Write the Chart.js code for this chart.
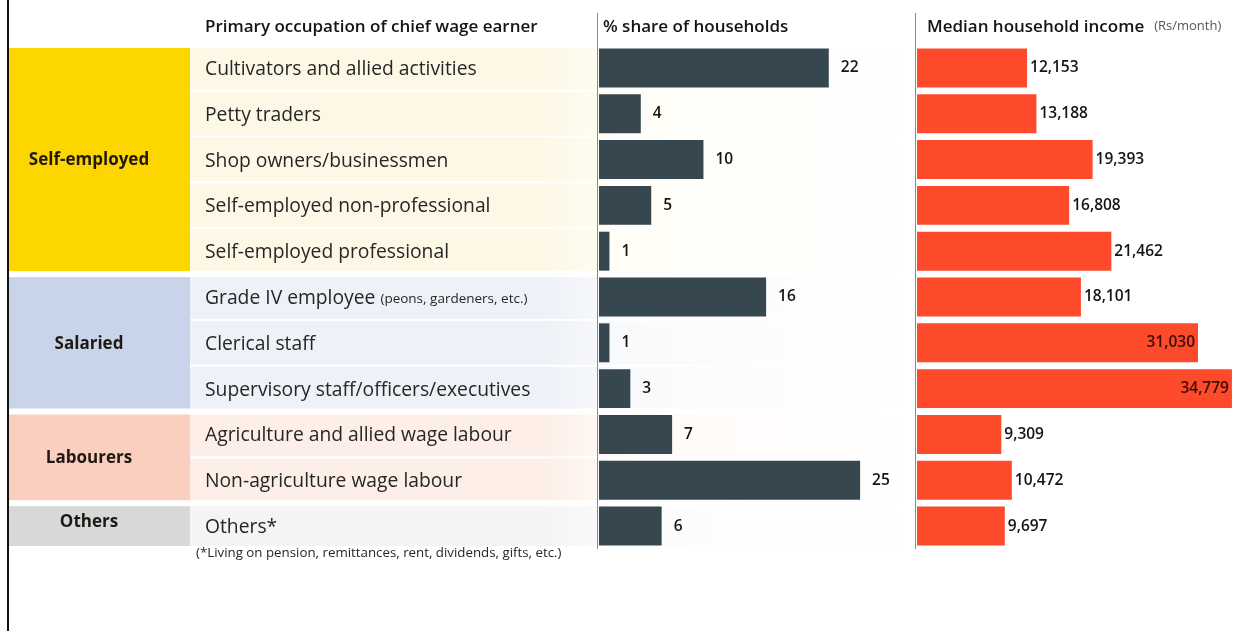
<!DOCTYPE html>
<html>
<head>
<meta charset="utf-8">
<script src="https://cdn.jsdelivr.net/npm/chart.js@4"></script>
<style>
    html, body { margin: 0; padding: 0; background: #fff; }
    #wrap { position: relative; width: 1244px; height: 631px; overflow: hidden; }
    canvas { position: absolute; top: 0; }
    #shareChart { left: 0; }
    #incomeChart { left: 900px; }
</style>
</head>
<body>
<div id="wrap">
    <canvas id="shareChart" width="900" height="631"></canvas>
    <canvas id="incomeChart" width="344" height="631"></canvas>
</div>
<script>
/* ============================================================
   DATA
============================================================ */
const occupations = [
    "Cultivators and allied activities",
    "Petty traders",
    "Shop owners/businessmen",
    "Self-employed non-professional",
    "Self-employed professional",
    "Grade IV employee",
    "Clerical staff",
    "Supervisory staff/officers/executives",
    "Agriculture and allied wage labour",
    "Non-agriculture wage labour",
    "Others*"
];
const occupationNotes = ["", "", "", "", "", "(peons, gardeners, etc.)", "", "", "", "", ""];
const shareOfHouseholds = [22, 4, 10, 5, 1, 16, 1, 3, 7, 25, 6];
const medianIncome = [12153, 13188, 19393, 16808, 21462, 18101, 31030, 34779, 9309, 10472, 9697];

const groupNames = ["Self-employed", "Salaried", "Labourers", "Others"];
const groupSizes = [5, 3, 2, 1];

const FOOTNOTE = "(*Living on pension, remittances, rent, dividends, gifts, etc.)";

/* ============================================================
   STYLE
============================================================ */
const FONT = '"Open Sans", "DejaVu Sans", sans-serif';
const GROUP_BLOCK = ["#fdd600", "#c8d4e9", "#fbcfbf", "#d6d8da"];
const GROUP_ROW = ["#fdf8e6", "#eef1f7", "#fdeee8", "#f4f4f5"];
const GROUP_ROW_END = ["#fffdf5", "#f9fafc", "#fffaf8", "#fcfcfc"];
const SHARE_COLOR = "#36474f";
const INCOME_COLOR = "#fd4a2b";

function rowBounds(yScale, i) {
    const step = yScale.getPixelForValue(1) - yScale.getPixelForValue(0);
    const c = yScale.getPixelForValue(i);
    return { top: c - step / 2, bottom: c + step / 2 };
}

// which group each row belongs to, and whether it starts/ends that group
function rowGroups() {
    const out = [];
    groupSizes.forEach((n, g) => {
        for (let k = 0; k < n; k++) out.push({ g, first: k === 0, last: k === n - 1 });
    });
    return out;
}

function drawValueLabels(chart, fmt, gap, insideColor) {
    const ctx = chart.ctx;
    const meta = chart.getDatasetMeta(0);
    const values = chart.data.datasets[0].data;
    ctx.save();
    ctx.font = "600 15.5px " + FONT;
    ctx.textBaseline = "middle";
    meta.data.forEach((bar, i) => {
        const txt = fmt(values[i]);
        const w = ctx.measureText(txt).width;
        // labels that would run off the canvas go inside the bar
        if (bar.x + gap + w > chart.width - 2) {
            ctx.fillStyle = insideColor;
            ctx.textAlign = "right";
            ctx.fillText(txt, bar.x - 3, bar.y);
        } else {
            ctx.fillStyle = "#141414";
            ctx.textAlign = "left";
            ctx.fillText(txt, bar.x + gap, bar.y);
        }
    });
    ctx.restore();
}

function drawAxisLine(chart) {
    const ctx = chart.ctx;
    const area = chart.chartArea;
    ctx.save();
    ctx.strokeStyle = "#8a8a8a";
    ctx.lineWidth = 1;
    ctx.beginPath();
    ctx.moveTo(area.left - 1.5, 13);
    ctx.lineTo(area.left - 1.5, area.bottom);
    ctx.stroke();
    ctx.restore();
}

/* ============================================================
   Left table: groups, row names, share bars
============================================================ */
const tablePlugin = {
    id: "occupationTable",
    beforeDatasetsDraw(chart) {
        const ctx = chart.ctx;
        const y = chart.scales.y;
        const rows = rowGroups();
        ctx.save();

        // row stripes, fading out across the share column
        rows.forEach((r, i) => {
            const b = rowBounds(y, i);
            const top = b.top + (r.first ? 3 : 1);
            const bottom = b.bottom - (r.last ? 3 : 1);
            const grad = ctx.createLinearGradient(190, 0, 900, 0);
            grad.addColorStop(0, GROUP_ROW[r.g]);
            grad.addColorStop(0.5, GROUP_ROW[r.g]);
            grad.addColorStop(0.6, GROUP_ROW_END[r.g]);
            grad.addColorStop(1, "#ffffff");
            ctx.fillStyle = grad;
            ctx.fillRect(190, top, 710, bottom - top);
        });

        // group blocks + names
        let start = 0;
        groupSizes.forEach((n, g) => {
            const top = rowBounds(y, start).top + 3;
            const bottom = rowBounds(y, start + n - 1).bottom - 3;
            ctx.fillStyle = GROUP_BLOCK[g];
            ctx.fillRect(9, top, 181, bottom - top);
            ctx.fillStyle = "#1f1912";
            ctx.font = "bold 17px " + FONT;
            ctx.textAlign = "center";
            ctx.textBaseline = "middle";
            const cy = g === 3 ? (top + bottom) / 2 - 4 : (top + bottom) / 2 + 1;
            ctx.fillText(groupNames[g], 89, cy);
            start += n;
        });

        // occupation names
        ctx.textAlign = "left";
        ctx.textBaseline = "middle";
        occupations.forEach((name, i) => {
            const cy = y.getPixelForValue(i) + 1.5;
            ctx.fillStyle = "#262626";
            ctx.font = "19.3px " + FONT;
            ctx.fillText(name, 205, cy);
            if (occupationNotes[i]) {
                const w = ctx.measureText(name + " ").width;
                ctx.font = "13.5px " + FONT;
                ctx.fillText(occupationNotes[i], 205 + w, cy + 1);
            }
        });

        // footnote
        ctx.font = "13.3px " + FONT;
        ctx.fillStyle = "#262626";
        ctx.fillText(FOOTNOTE, 196, 553);

        // left frame line
        ctx.fillStyle = "#111";
        ctx.fillRect(7, 0, 2, chart.height);

        // headers
        ctx.font = "600 17px " + FONT;
        ctx.fillStyle = "#141414";
        ctx.fillText("Primary occupation of chief wage earner", 205, 27.5);
        ctx.fillText("% share of households", 603, 27.5);
        ctx.restore();

        drawAxisLine(chart);
    },
    afterDatasetsDraw(chart) {
        drawValueLabels(chart, v => String(v), 12, "#fff");
    }
};

/* ============================================================
   Right column: median income
============================================================ */
const incomePlugin = {
    id: "incomeColumn",
    beforeDatasetsDraw(chart) {
        const ctx = chart.ctx;
        const left = chart.chartArea.left;
        ctx.save();
        ctx.textAlign = "left";
        ctx.textBaseline = "middle";
        ctx.font = "600 17px " + FONT;
        ctx.fillStyle = "#141414";
        const title = "Median household income";
        ctx.fillText(title, left + 10, 27.5);
        const w = ctx.measureText(title).width;
        ctx.font = "13px " + FONT;
        ctx.fillStyle = "#555";
        ctx.fillText("(Rs/month)", left + 10 + w + 10, 26.5);
        ctx.restore();
        drawAxisLine(chart);
    },
    afterDatasetsDraw(chart) {
        drawValueLabels(chart, v => v.toLocaleString("en-US"), 3, "#3a0d05");
    }
};

function barOptions(maxX, padding) {
    return {
        responsive: false,
        animation: false,
        indexAxis: "y",
        layout: { padding },
        scales: {
            x: { min: 0, max: maxX, display: false },
            y: { display: false }
        },
        plugins: { legend: { display: false }, tooltip: { enabled: false } }
    };
}

new Chart(document.getElementById("shareChart"), {
    type: "bar",
    data: {
        labels: occupations,
        datasets: [{
            data: shareOfHouseholds,
            backgroundColor: SHARE_COLOR,
            categoryPercentage: 1,
            barPercentage: 0.85
        }]
    },
    options: barOptions(27, { left: 599, right: 19, top: 45, bottom: 82 }),
    plugins: [tablePlugin]
});

new Chart(document.getElementById("incomeChart"), {
    type: "bar",
    data: {
        labels: occupations,
        datasets: [{
            data: medianIncome,
            backgroundColor: INCOME_COLOR,
            categoryPercentage: 1,
            barPercentage: 0.85
        }]
    },
    options: barOptions(36000, { left: 17, right: 1, top: 45, bottom: 82 }),
    plugins: [incomePlugin]
});
</script>
</body>
</html>
